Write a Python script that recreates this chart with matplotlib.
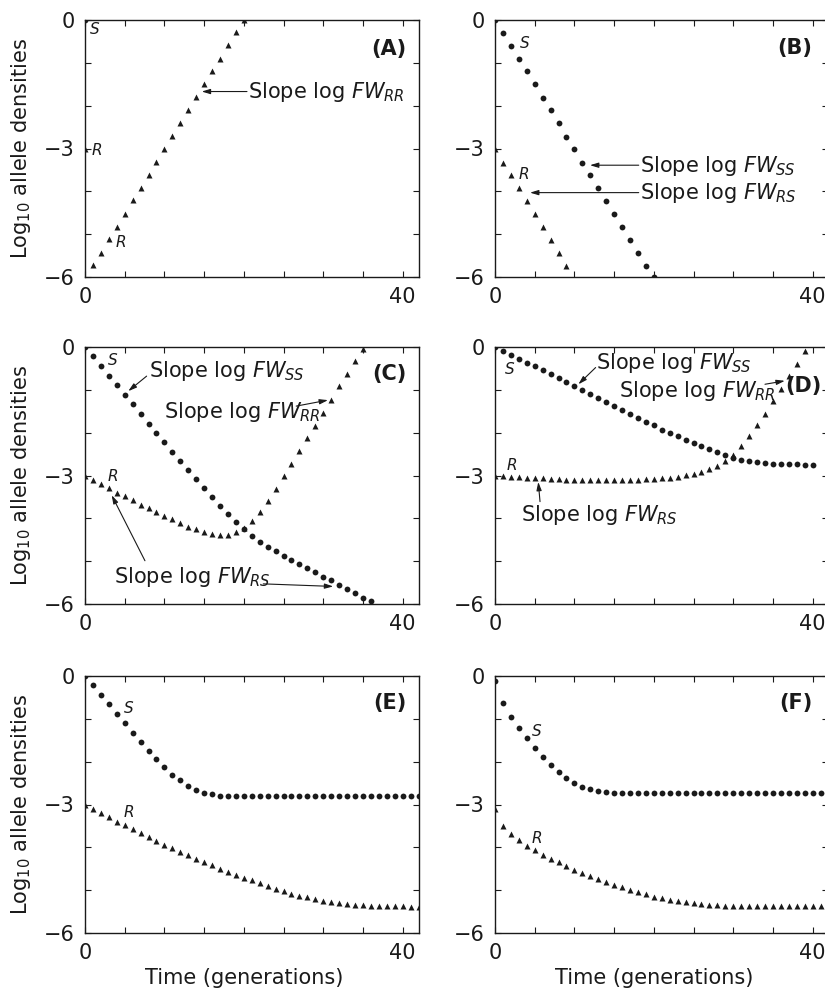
"""Six-panel figure: log10 allele densities of S and R over generations."""
import numpy as np
import matplotlib.pyplot as plt
from matplotlib.ticker import FixedLocator, FixedFormatter

plt.rcParams["font.family"] = "DejaVu Sans"
plt.rcParams["mathtext.fontset"] = "dejavusans"

# Log10 allele densities, one value per generation.
A_S = [0.0]
A_R = [-3.0, -5.72, -5.43, -5.12, -4.83, -4.52, -4.21, -3.92, -3.61, -3.31, -3.01,
       -2.70, -2.40, -2.10, -1.80, -1.50, -1.19, -0.90, -0.59, -0.29, 0.0]

B_S = [0.0, -0.31, -0.60, -0.90, -1.20, -1.50, -1.81, -2.10, -2.41, -2.72, -3.02,
       -3.33, -3.62, -3.92, -4.23, -4.53, -4.83, -5.13, -5.44, -5.74, -6.0]
B_R = [-3.02, -3.33, -3.62, -3.92, -4.23, -4.53, -4.83, -5.13, -5.44, -5.74]

C_S = [0.0, -0.22, -0.45, -0.68, -0.89, -1.11, -1.34, -1.56, -1.79, -2.00, -2.22,
       -2.44, -2.66, -2.87, -3.09, -3.30, -3.51, -3.71, -3.91, -4.09, -4.26, -4.41,
       -4.55, -4.67, -4.77, -4.87, -4.97, -5.07, -5.16, -5.26, -5.36, -5.45, -5.56,
       -5.66, -5.75, -5.85, -5.94]
C_R = [-3.01, -3.11, -3.20, -3.30, -3.40, -3.47, -3.58, -3.68, -3.77, -3.86, -3.95,
       -4.02, -4.10, -4.20, -4.26, -4.31, -4.37, -4.38, -4.38, -4.31, -4.23, -4.06,
       -3.85, -3.60, -3.31, -3.01, -2.74, -2.43, -2.12, -1.84, -1.53, -1.24, -0.92,
       -0.62, -0.33, -0.04]

D_S = [0.0, -0.09, -0.18, -0.29, -0.37, -0.45, -0.54, -0.63, -0.72, -0.82, -0.91,
       -1.00, -1.10, -1.19, -1.28, -1.38, -1.47, -1.56, -1.65, -1.74, -1.83, -1.93,
       -2.00, -2.08, -2.16, -2.24, -2.32, -2.39, -2.46, -2.53, -2.58, -2.63, -2.67,
       -2.69, -2.70, -2.72, -2.73, -2.74, -2.74, -2.75, -2.76]
D_R = [-3.01, -3.02, -3.03, -3.04, -3.05, -3.06, -3.07, -3.08, -3.09, -3.10, -3.10,
       -3.11, -3.11, -3.11, -3.11, -3.11, -3.11, -3.10, -3.10, -3.09, -3.08, -3.07,
       -3.05, -3.03, -2.99, -2.96, -2.91, -2.85, -2.78, -2.65, -2.51, -2.31, -2.07,
       -1.82, -1.57, -1.26, -0.98, -0.68, -0.39, -0.09]

E_S = [0.0, -0.22, -0.44, -0.66, -0.89, -1.10, -1.32, -1.54, -1.74, -1.93, -2.13,
       -2.30, -2.43, -2.56, -2.65, -2.72, -2.76, -2.79, -2.80, -2.81, -2.81, -2.81,
       -2.81, -2.81, -2.81, -2.81, -2.81, -2.81, -2.81, -2.81, -2.81, -2.81, -2.81,
       -2.81, -2.81, -2.81, -2.81, -2.81, -2.81, -2.81, -2.81, -2.81, -2.81]
E_R = [-3.01, -3.11, -3.21, -3.30, -3.40, -3.49, -3.57, -3.66, -3.76, -3.85, -3.95,
       -4.02, -4.10, -4.18, -4.27, -4.34, -4.41, -4.51, -4.58, -4.65, -4.72, -4.77,
       -4.84, -4.91, -4.97, -5.03, -5.08, -5.13, -5.17, -5.21, -5.25, -5.28, -5.30,
       -5.32, -5.34, -5.35, -5.36, -5.37, -5.38, -5.38, -5.38, -5.39, -5.39]

F_S = [-0.11, -0.62, -0.95, -1.22, -1.45, -1.67, -1.88, -2.07, -2.24, -2.38, -2.50,
       -2.58, -2.64, -2.68, -2.71, -2.73, -2.74, -2.74, -2.74, -2.74, -2.74, -2.74,
       -2.74, -2.74, -2.74, -2.74, -2.74, -2.74, -2.74, -2.74, -2.74, -2.74, -2.74,
       -2.74, -2.74, -2.74, -2.74, -2.74, -2.74, -2.74, -2.74, -2.74]
F_R = [-3.11, -3.51, -3.69, -3.84, -3.96, -4.07, -4.17, -4.27, -4.34, -4.43, -4.52,
       -4.60, -4.68, -4.74, -4.82, -4.88, -4.93, -5.00, -5.05, -5.10, -5.15, -5.18,
       -5.23, -5.26, -5.28, -5.31, -5.33, -5.35, -5.35, -5.36, -5.37, -5.38, -5.38,
       -5.38, -5.38, -5.38, -5.38, -5.38, -5.38, -5.38, -5.38, -5.38]

PANELS = ["A", "B", "C", "D", "E", "F"]
S_SERIES = [A_S, B_S, C_S, D_S, E_S, F_S]
R_SERIES = [A_R, B_R, C_R, D_R, E_R, F_R]

X_TICKS = [0, 5, 10, 15, 20, 25, 30, 35, 40]
X_LABELS = ["0", "", "", "", "", "", "", "", "40"]
Y_TICKS = [-6, -5, -4, -3, -2, -1, 0]
Y_LABELS = ["\u22126", "", "", "\u22123", "", "", "0"]

FS = 15
INK = "#1a1a1a"

# panel label (right x, baseline y) and S / R italic labels (left x, baseline y)
PANEL_POS = [(40.5, -0.82), (40.0, -0.80), (40.5, -0.78),
             (41.1, -1.05), (40.5, -0.78), (40.0, -0.76)]
SR_LABELS = [
    [("S", 0.63, -0.33), ("R", 0.84, -3.15), ("R", 3.9, -5.30)],
    [("S", 3.15, -0.65), ("R", 2.94, -3.71)],
    [("S", 2.94, -0.43), ("R", 2.8, -3.12)],
    [("S", 1.26, -0.62), ("R", 1.47, -2.86)],
    [("S", 4.9, -0.87), ("R", 4.9, -3.30)],
    [("S", 4.7, -1.41), ("R", 4.6, -3.89)],
]
# slope annotations: text (left x, baseline y) and arrows (tail, head)
SLOPES = [
    [("RR", 20.56, -1.83, [((20.4, -1.67), (14.7, -1.67))])],
    [("SS", 18.25, -3.56, [((18.1, -3.39), (11.96, -3.39))]),
     ("RS", 18.25, -4.19, [((18.1, -4.03), (4.41, -4.03))])],
    [("SS", 8.1, -0.71, [((7.76, -0.68), (5.45, -1.03))]),
     ("RR", 10.0, -1.66, [((26.6, -1.38), (30.6, -1.24))]),
     ("RS", 3.7, -5.50, [((7.55, -4.99), (3.36, -3.46)),
                        ((22.45, -5.53), (31.26, -5.59))])],
    [("SS", 12.7, -0.51, [((12.67, -0.48), (10.5, -0.87))]),
     ("RR", 15.65, -1.17, [((34.0, -0.87), (36.5, -0.79))]),
     ("RS", 3.27, -4.06, [((5.67, -3.61), (5.45, -3.15))])],
    [],
    [],
]


def main():
    fig = plt.figure(figsize=(8.25, 9.91), dpi=100)
    lefts = [85 / 825, 495 / 825]
    bottoms = [1 - 277 / 991, 1 - 604 / 991, 1 - 933 / 991]
    w, h = 333.5 / 825, 257 / 991

    for i, name in enumerate(PANELS):
        row, col = divmod(i, 2)
        ax = fig.add_axes([lefts[col], bottoms[row], w, h])
        s = S_SERIES[i]
        r = R_SERIES[i]
        x_s = np.arange(len(s))
        x_r = np.arange(len(r))
        ax.plot(x_s, s, "o", ms=4.2, color=INK, mec="none")
        ax.plot(x_r, r, "^", ms=4.6, color=INK, mec="none")

        ax.set_xlim(0, 42)
        ax.set_ylim(-6, 0)
        ax.xaxis.set_major_locator(FixedLocator(X_TICKS))
        ax.xaxis.set_major_formatter(FixedFormatter(X_LABELS))
        ax.yaxis.set_major_locator(FixedLocator(Y_TICKS))
        ax.yaxis.set_major_formatter(FixedFormatter(Y_LABELS))
        ax.tick_params(direction="in", length=4, width=0.8, top=True, right=True,
                       labelsize=FS, colors=INK, pad=7.5)
        for sp in ax.spines.values():
            sp.set_linewidth(1.0)
            sp.set_color(INK)

        px, py = PANEL_POS[i]
        ax.text(px, py, f"({name})", ha="right", va="baseline",
                fontsize=FS, fontweight="bold", color=INK)
        for lab, lx, ly in SR_LABELS[i]:
            ax.text(lx, ly, lab, ha="left", va="baseline", fontsize=11,
                    fontstyle="italic", color=INK)
        for sub, tx, ty, arrows in SLOPES[i]:
            ax.text(tx, ty, "Slope log $\\mathit{FW}_{\\mathit{%s}}$" % sub,
                    ha="left", va="baseline", fontsize=FS, color=INK)
            for tail, head in arrows:
                ax.annotate("", xy=head, xytext=tail,
                            arrowprops=dict(arrowstyle="-|>,head_length=0.5,head_width=0.15",
                                            lw=0.8, color=INK, shrinkA=0, shrinkB=0))

        if col == 0:
            ax.set_ylabel("Log$_{10}$ allele densities", fontsize=FS, color=INK)
            ax.yaxis.set_label_coords(-0.155, 0.5)
        if row == 2:
            ax.set_xlabel("Time (generations)", fontsize=FS, color=INK)
            ax.xaxis.set_label_coords(20 / 42, -0.136)
            ax.xaxis.label.set_va("top")

    fig.savefig("out.png", dpi=100)


if __name__ == "__main__":
    main()
